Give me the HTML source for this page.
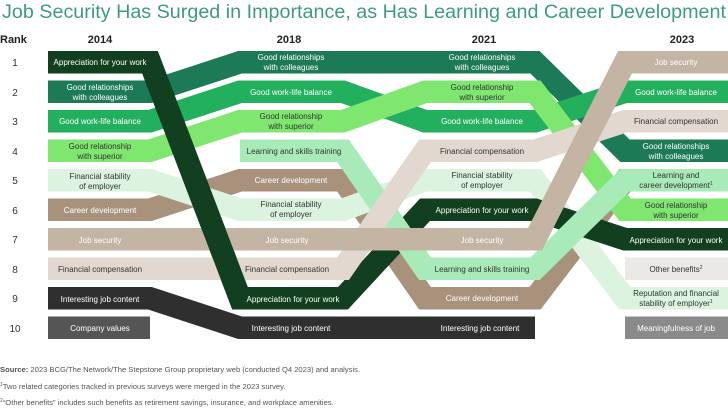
<!DOCTYPE html>
<html><head><meta charset="utf-8"><style>
html,body{margin:0;padding:0;background:#fff;}
svg{display:block;font-family:"Liberation Sans",sans-serif;}
</style></head><body>
<svg id="s" width="728" height="409" viewBox="0 0 728 409" xmlns="http://www.w3.org/2000/svg">
<text x="2" y="18" font-size="19" fill="#3e9c7c" textLength="724" lengthAdjust="spacingAndGlyphs">Job Security Has Surged in Importance, as Has Learning and Career Development</text>
<g font-weight="bold" font-size="11" fill="#222">
<text x="0" y="43">Rank</text>
<text x="100" y="43" text-anchor="middle">2014</text>
<text x="289" y="43" text-anchor="middle">2018</text>
<text x="484" y="43" text-anchor="middle">2021</text>
<text x="682" y="43" text-anchor="middle">2023</text>
</g>
<g font-size="10" fill="#333" text-anchor="middle">
<text x="15" y="66">1</text><text x="15" y="96">2</text><text x="15" y="125">3</text><text x="15" y="155">4</text><text x="15" y="184">5</text><text x="15" y="214">6</text><text x="15" y="243">7</text><text x="15" y="273">8</text><text x="15" y="302">9</text><text x="15" y="332">10</text>
</g>
<g id="bands" fill="none" stroke-width="22.5" stroke-linejoin="miter" stroke-miterlimit="4" stroke-linecap="butt"></g>
<g font-size="8" text-anchor="middle">
<text x="100" y="65" fill="#fff">Appreciation for your work</text>
<text x="100" y="90" fill="#fff">Good relationships<tspan x="100" dy="10">with colleagues</tspan></text>
<text x="100" y="124" fill="#fff">Good work-life balance</text>
<text x="100" y="149" fill="#333">Good relationship<tspan x="100" dy="10">with superior</tspan></text>
<text x="100" y="179" fill="#333">Financial stability<tspan x="100" dy="10">of employer</tspan></text>
<text x="100" y="213" fill="#fff">Career development</text>
<text x="100" y="243" fill="#fff">Job security</text>
<text x="100" y="272" fill="#333">Financial compensation</text>
<text x="100" y="302" fill="#fff">Interesting job content</text>
<text x="100" y="331" fill="#fff">Company values</text>
<text x="291" y="60" fill="#fff">Good relationships<tspan x="291" dy="10">with colleagues</tspan></text>
<text x="291" y="95" fill="#fff">Good work-life balance</text>
<text x="291" y="119" fill="#333">Good relationship<tspan x="291" dy="10">with superior</tspan></text>
<text x="294" y="154" fill="#333">Learning and skills training</text>
<text x="291" y="183" fill="#fff">Career development</text>
<text x="291" y="207" fill="#333">Financial stability<tspan x="291" dy="10">of employer</tspan></text>
<text x="287" y="243" fill="#fff">Job security</text>
<text x="287" y="272" fill="#333">Financial compensation</text>
<text x="293" y="302" fill="#fff">Appreciation for your work</text>
<text x="291" y="331" fill="#fff">Interesting job content</text>
<text x="482" y="60" fill="#fff">Good relationships<tspan x="482" dy="10">with colleagues</tspan></text>
<text x="482" y="90" fill="#333">Good relationship<tspan x="482" dy="10">with superior</tspan></text>
<text x="482" y="124" fill="#fff">Good work-life balance</text>
<text x="482" y="154" fill="#333">Financial compensation</text>
<text x="482" y="178" fill="#333">Financial stability<tspan x="482" dy="10">of employer</tspan></text>
<text x="482" y="213" fill="#fff">Appreciation for your work</text>
<text x="482" y="243" fill="#fff">Job security</text>
<text x="482" y="272" fill="#333">Learning and skills training</text>
<text x="482" y="301" fill="#fff">Career development</text>
<text x="480" y="331" fill="#fff">Interesting job content</text>
<text x="676" y="65" fill="#fff">Job security</text>
<text x="676" y="95" fill="#fff">Good work-life balance</text>
<text x="676" y="124" fill="#333">Financial compensation</text>
<text x="676" y="149" fill="#fff">Good relationships<tspan x="676" dy="10">with colleagues</tspan></text>
<text x="676" y="178" fill="#333">Learning and<tspan x="676" dy="10">career development<tspan font-size="5" dy="-3">1</tspan></tspan></text>
<text x="676" y="208" fill="#333">Good relationship<tspan x="676" dy="10">with superior</tspan></text>
<text x="676" y="243" fill="#fff">Appreciation for your work</text>
<text x="676" y="272" fill="#333">Other benefits<tspan font-size="5" dy="-3">2</tspan></text>
<text x="676" y="296" fill="#333">Reputation and financial<tspan x="676" dy="10">stability of employer<tspan font-size="5" dy="-3">1</tspan></tspan></text>
<text x="676" y="331" fill="#fff">Meaningfulness of job</text>
</g>
<g font-size="7.6" fill="#555">
<text x="0" y="372"><tspan font-weight="bold">Source:</tspan> 2023 BCG/The Network/The Stepstone Group proprietary web (conducted Q4 2023) and analysis.</text>
<text x="0" y="389"><tspan font-size="5" dy="-3">1</tspan><tspan dy="3">Two related categories tracked in previous surveys were merged in the 2023 survey.</tspan></text>
<text x="0" y="405"><tspan font-size="5" dy="-3">2</tspan><tspan dy="3">“Other benefits” includes such benefits as retirement savings, insurance, and workplace amenities.</tspan></text>
</g>
</svg>
<script>
(function(){
var C=[[48,150],[240,343],[425,535],[625,728]];
function M(r){return 51+(r-1)*29.5+11.25;}
var g=document.getElementById('bands');
function band(ranks,color,from,to){
  from=from||0;to=(to===undefined)?ranks.length-1:to;
  var pts=[];
  for(var i=from;i<=to;i++){
    if(ranks[i]==null)continue;
    var c=M(ranks[i]);
    pts.push(C[i][0]+','+c, C[i][1]+','+c);
  }
  var p=document.createElementNS('http://www.w3.org/2000/svg','polyline');
  p.setAttribute('points',pts.join(' '));p.setAttribute('stroke',color);
  g.appendChild(p);
}
var N=null;
band([6,5,9,5],'#a8927c');
band([5,6,5,9],'#dcf4df');
band([9,10,10,N],'#2f2f2f');
band([10,N,N,N],'#555555');
band([N,N,N,8],'#ebe8e5');
band([N,N,N,10],'#8a8a8a');
band([2,1,1,4],'#1d7a56');
band([3,2,3,2],'#23b05e');
band([4,3,2,6],'#7fe670');
band([1,9,6,7],'#113f20');
band([N,4,8,5],'#a8ebb8');
band([8,8,4,3],'#e2d8cf');
band([7,7,7,1],'#c3b4a4');
band([1,9,6,7],'#113f20',0,1);
})();
</script>
</body></html>
